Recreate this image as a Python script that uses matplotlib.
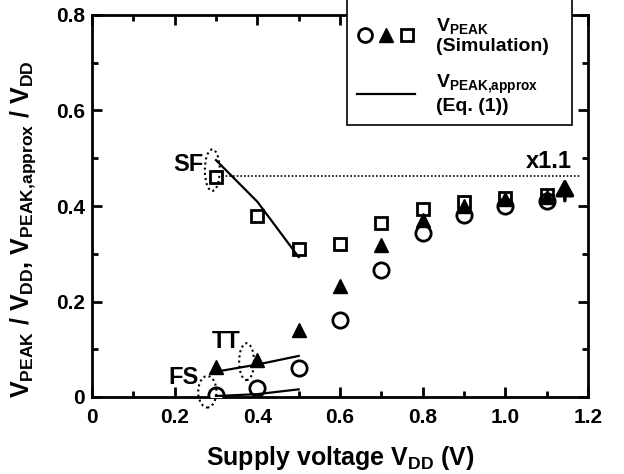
import numpy as np
import matplotlib
matplotlib.use('Agg')
import matplotlib.pyplot as plt
from matplotlib.lines import Line2D
from matplotlib.patches import Ellipse
from matplotlib.legend_handler import HandlerTuple
from matplotlib.ticker import MultipleLocator, FuncFormatter

plt.rcParams['font.family'] = 'Liberation Sans'
plt.rcParams['font.weight'] = 'bold'
plt.rcParams['mathtext.fontset'] = 'custom'
plt.rcParams['mathtext.rm'] = 'Liberation Sans:bold'
plt.rcParams['mathtext.bf'] = 'Liberation Sans:bold'
plt.rcParams['mathtext.it'] = 'Liberation Sans:bold'

# simulated V_PEAK / V_DD for each corner
vdd = [0.3, 0.4, 0.5, 0.6, 0.7, 0.8, 0.9, 1.0, 1.1]
sf_sim = [0.461, 0.379, 0.310, 0.320, 0.365, 0.394, 0.409, 0.417, 0.424]
tt_sim = [0.062, 0.077, 0.140, 0.233, 0.318, 0.371, 0.401, 0.414, 0.419]
fs_sim = [0.004, 0.018, 0.060, 0.161, 0.266, 0.344, 0.381, 0.400, 0.410]

# Eq. (1) approximation, low-voltage region only
vdd_eq = [0.3, 0.4, 0.5]
sf_eq = [0.496, 0.409, 0.293]
tt_eq = [0.053, 0.068, 0.086]
fs_eq = [0.002, 0.006, 0.016]

# x1.1 guide
guide_y = 0.463
arrow_x = 1.144
arrow_from = 0.411
arrow_to = 0.458

fig = plt.figure(figsize=(6.24, 4.74), dpi=100)
ax = fig.add_axes([92 / 624, 77 / 474, 496 / 624, 382 / 474])

ms_c, ms_t, ms_s = 11, 9.5, 8
ax.plot(vdd, fs_sim, 'o', ms=ms_c, mfc='white', mec='black', mew=2, ls='none', zorder=3)
ax.plot(vdd, tt_sim, '^', ms=ms_t, mfc='black', mec='black', mew=1, ls='none', zorder=4)
ax.plot(vdd, sf_sim, 's', ms=ms_s, mfc='none', mec='black', mew=2, ls='none', zorder=5)

for y in (sf_eq, tt_eq, fs_eq):
    ax.plot(vdd_eq, y, '-', color='black', lw=1.6, zorder=6)

ax.hlines(guide_y, 0.315, 1.18, colors='black', linestyles=(0, (1, 1.2)), lw=1.2)
ax.annotate('', xy=(arrow_x, arrow_to), xytext=(arrow_x, arrow_from),
            arrowprops=dict(arrowstyle='-|>,head_length=1.0,head_width=0.55',
                            color='black', lw=2.5, shrinkA=0, shrinkB=0))
ax.text(1.162, 0.479, 'x1.1', fontsize=17, fontweight='bold', ha='right', va='baseline')

# corner labels and dotted ellipses
ax.text(0.269, 0.486, 'SF', fontsize=17, fontweight='bold', ha='right', va='center')
ax.text(0.324, 0.116, 'TT', fontsize=17, fontweight='bold', ha='center', va='center')
ax.text(0.221, 0.041, 'FS', fontsize=17, fontweight='bold', ha='center', va='center')
for cx, cy, w, h in [(0.291, 0.475, 0.036, 0.087), (0.374, 0.074, 0.036, 0.077),
                     (0.279, 0.011, 0.044, 0.066)]:
    ax.add_patch(Ellipse((cx, cy), w, h, fill=False, ec='black', lw=1.5,
                         ls=(0, (1, 1.5)), clip_on=False, zorder=7))

ax.set_xlim(0, 1.2)
ax.set_ylim(0, 0.8)
ax.xaxis.set_major_locator(MultipleLocator(0.2))
ax.xaxis.set_minor_locator(MultipleLocator(0.1))
ax.yaxis.set_major_locator(MultipleLocator(0.2))
ax.yaxis.set_minor_locator(MultipleLocator(0.1))
fmt = FuncFormatter(lambda v, p: '0' if abs(v) < 1e-9 else '%.1f' % v)
ax.xaxis.set_major_formatter(fmt)
ax.yaxis.set_major_formatter(fmt)
ax.tick_params(which='both', direction='in', top=True, right=True, width=2, labelsize=15)
ax.tick_params(which='major', length=7)
ax.tick_params(which='minor', length=4)
ax.tick_params(axis='x', pad=8)
ax.tick_params(axis='y', pad=5)
for s in ax.spines.values():
    s.set_linewidth(2)

ax.set_xlabel(r'Supply voltage $\mathbf{V_{DD}}$ (V)', fontsize=18, fontweight='bold', labelpad=12)
ax.set_ylabel(r'$\mathbf{V_{PEAK}}$ / $\mathbf{V_{DD}}$, '
              r'$\mathbf{V_{PEAK{,}approx}}$ / $\mathbf{V_{DD}}$',
              fontsize=18, fontweight='bold')
ax.yaxis.set_label_coords(-0.108, 0.44)

h_c = Line2D([], [], marker='o', ms=ms_c - 1, mfc='white', mec='black', mew=2, ls='none')
h_t = Line2D([], [], marker='^', ms=ms_t, mfc='black', mec='black', ls='none')
h_s = Line2D([], [], marker='s', ms=ms_s, mfc='none', mec='black', mew=2, ls='none')
h_l = Line2D([], [], color='black', lw=1.6)
leg = ax.legend([(h_c, h_t, h_s), h_l],
                [r'$\mathbf{V_{PEAK}}$' + '\n(Simulation)',
                 r'$\mathbf{V_{PEAK{,}approx}}$' + '\n(Eq. (1))'],
                handler_map={tuple: HandlerTuple(ndivide=None, pad=0.2)},
                loc='lower left', bbox_to_anchor=(0.514, 0.712, 0.454, 0.3), mode='expand',
                prop={'size': 14, 'weight': 'bold'}, frameon=True, fancybox=False,
                framealpha=1, edgecolor='black', handlelength=3.0, handletextpad=1.1,
                borderpad=0.5, labelspacing=0.95, borderaxespad=0,
                title=' ', title_fontsize=14)
leg.get_frame().set_linewidth(1.2)
leg.set_zorder(10)
for t in leg.get_texts():
    t.set_linespacing(1.15)

fig.savefig('out.png', dpi=100)
